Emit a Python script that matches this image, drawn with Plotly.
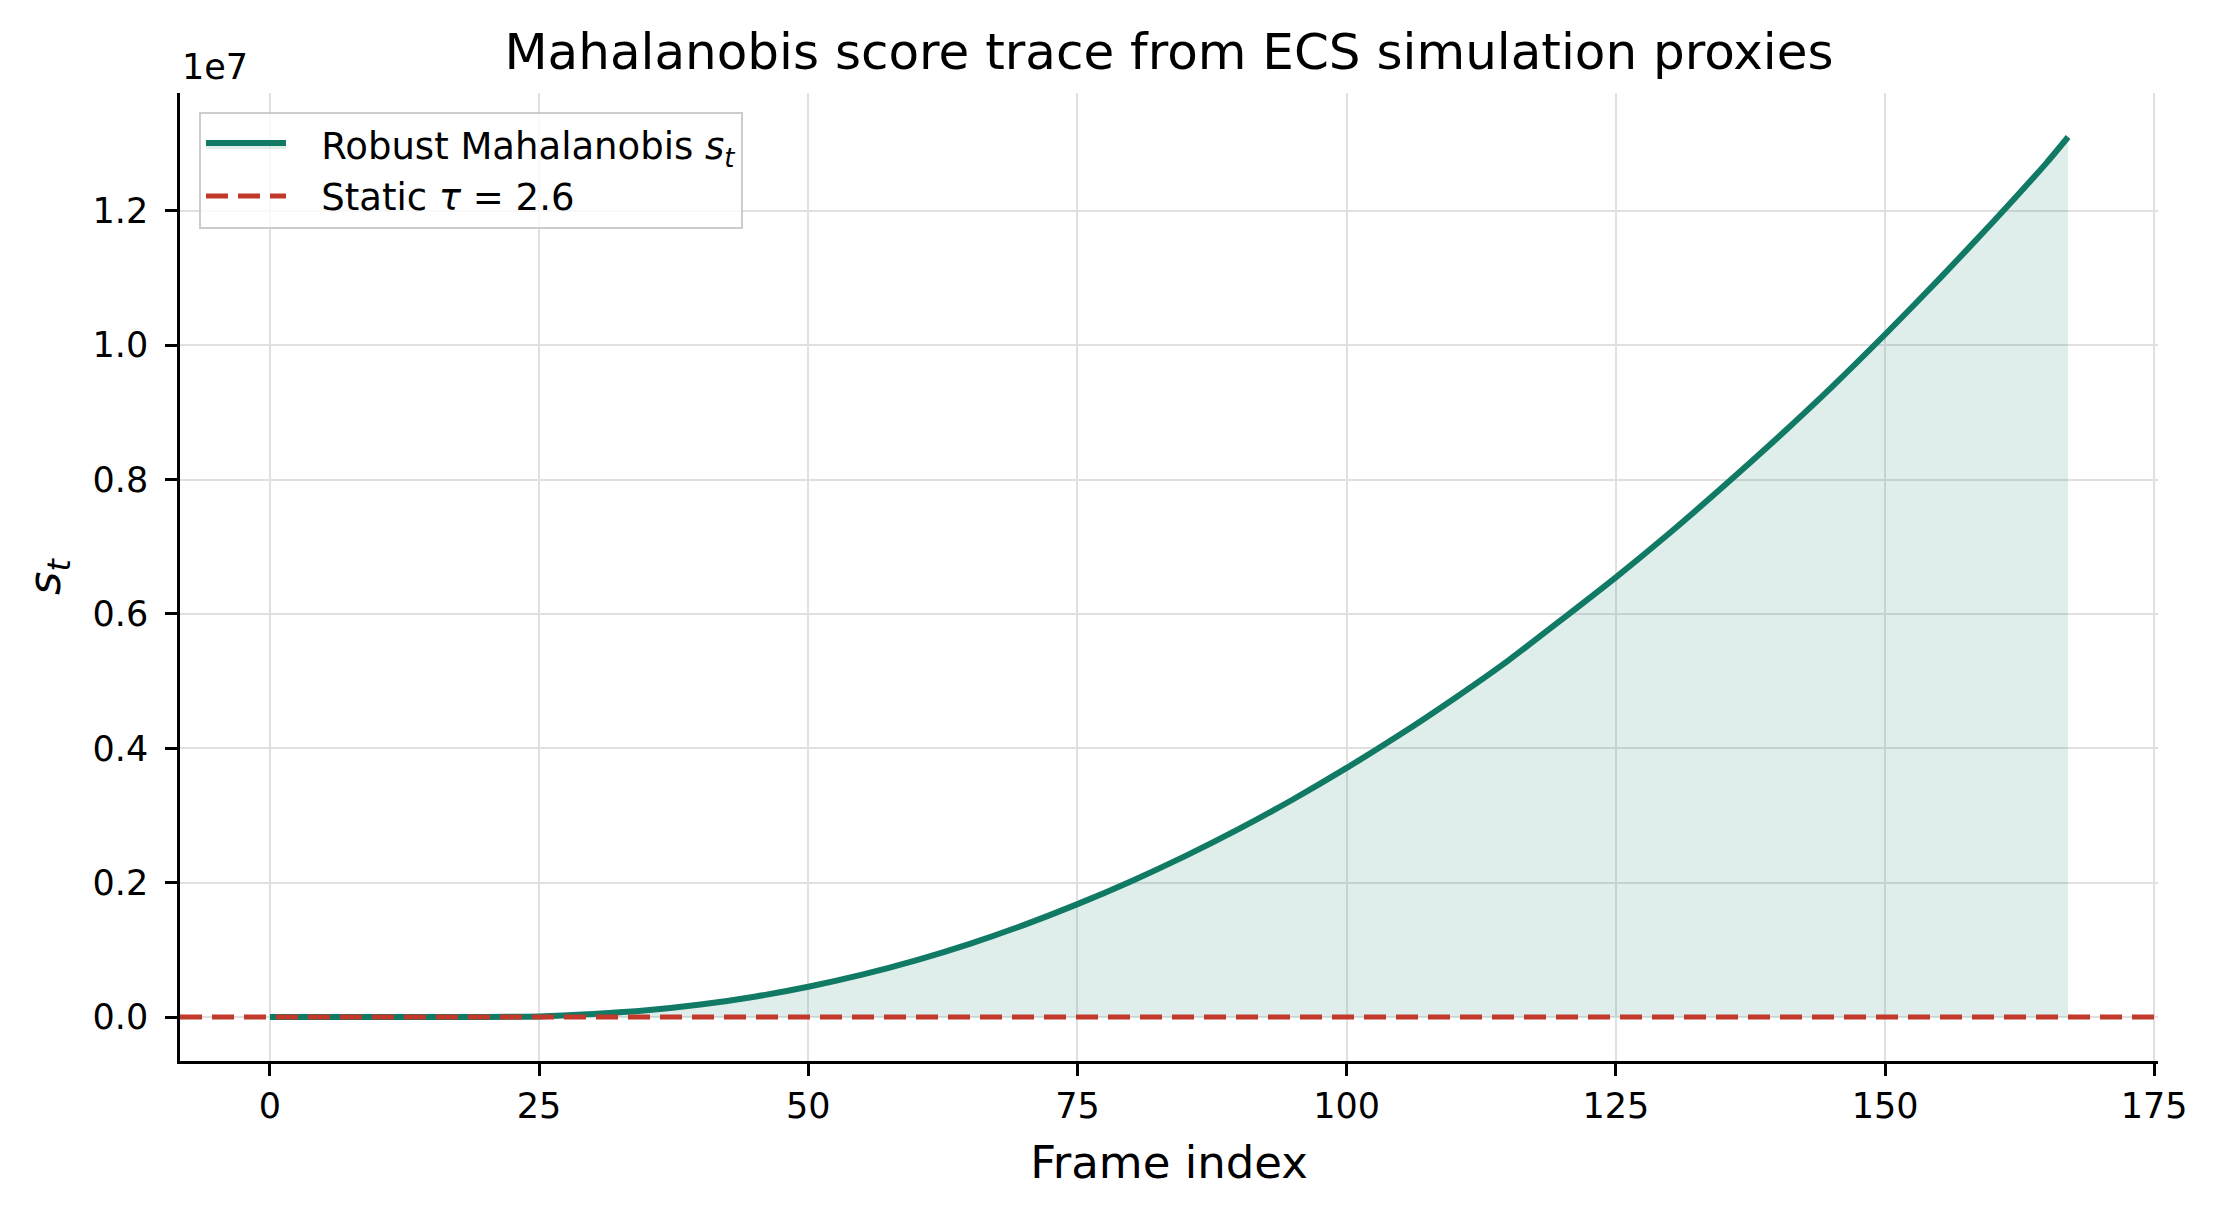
import plotly.graph_objects as go

# ---------------- data ----------------
SCALE = 1e7  # axis offset shown as "1e7"
frames = [0, 5, 10, 15, 20, 25, 30, 35, 40, 45, 50, 55, 60, 65, 70, 75, 80, 85,
          90, 95, 100, 105, 110, 115, 120, 125, 130, 135, 140, 145, 150, 155,
          160, 165, 167]
score_1e7 = [0.0, 0.0, 0.0, 0.0, 0.0, 0.0008, 0.0045, 0.0100, 0.0185, 0.0302,
             0.0450, 0.0630, 0.0843, 0.1089, 0.1368, 0.1680, 0.2022, 0.2395,
             0.2800, 0.3238, 0.3708, 0.4208, 0.4742, 0.5306, 0.5920, 0.6545,
             0.7205, 0.7900, 0.8620, 0.9370, 1.0160, 1.0980, 1.1830, 1.2715,
             1.3100]
tau = 2.6
x_ticks = [0, 25, 50, 75, 100, 125, 150, 175]
y_ticks_1e7 = [0.0, 0.2, 0.4, 0.6, 0.8, 1.0, 1.2]
y_tick_labels = ["0.0", "0.2", "0.4", "0.6", "0.8", "1.0", "1.2"]

GREEN = "#117a65"
RED = "#c0392b"
FONT = "DejaVu Sans"

scores = [v * SCALE for v in score_1e7]

# matplotlib-like 5% margins
xpad = 0.05 * (max(frames) - min(frames))
x_range = [min(frames) - xpad, max(frames) + xpad]
ypad = 0.05 * (max(scores) - min(scores))
y_range = [min(scores) - ypad, max(scores) + ypad]

LEAD = "\u2002\u00a0"  # gap between legend sample and label

fig = go.Figure()

fig.add_trace(go.Scatter(
    x=frames, y=scores, mode="lines",
    line=dict(color=GREEN, width=6, shape="spline", smoothing=0.6),
    fill="tozeroy", fillcolor="rgba(17,122,101,0.13)",
    name=LEAD + "Robust Mahalanobis <i>s</i><sub><i>t</i></sub>",
))

fig.add_trace(go.Scatter(
    x=x_range, y=[tau, tau], mode="lines",
    line=dict(color=RED, width=5, dash="22px,10px"),
    name=LEAD + "Static <i>τ</i> = 2.6",
))

fig.update_layout(
    width=2218, height=1220,
    margin=dict(l=180, r=60, t=93, b=159),
    paper_bgcolor="white", plot_bgcolor="white",
    font=dict(family=FONT, size=35, color="black"),
    title=dict(text="Mahalanobis score trace from ECS simulation proxies",
               font=dict(family=FONT, size=50, color="black"),
               x=(180 + 2158) / 2 / 2218, xanchor="center",
               y=1 - 51 / 1220, yanchor="middle", yref="container"),
    showlegend=True,
    legend=dict(x=0.0096, y=0.98, xanchor="left", yanchor="top",
                bgcolor="rgba(255,255,255,0.8)", bordercolor="#cccccc",
                borderwidth=2, font=dict(family=FONT, size=37),
                itemwidth=80, tracegroupgap=0),
)

fig.update_xaxes(
    range=x_range, tickmode="array", tickvals=x_ticks,
    ticks="outside", ticklen=12, tickwidth=2.5, tickcolor="black",
    showline=True, linecolor="black", linewidth=2.5, mirror=False,
    showgrid=True, gridcolor="#e0e0e0", gridwidth=2, zeroline=False,
    tickfont=dict(family=FONT, size=35),
    title=dict(text="Frame index", font=dict(family=FONT, size=45), standoff=22),
)

fig.update_yaxes(
    range=y_range, tickmode="array",
    tickvals=[v * SCALE for v in y_ticks_1e7], ticktext=y_tick_labels,
    ticks="outside", ticklen=12, tickwidth=2.5, tickcolor="black",
    ticklabelstandoff=10,
    showline=True, linecolor="black", linewidth=2.5, mirror=False,
    showgrid=True, gridcolor="#e0e0e0", gridwidth=2, zeroline=False,
    tickfont=dict(family=FONT, size=35),
    title=dict(text="<i>s</i><sub><i>t</i></sub>", font=dict(family=FONT, size=45),
               standoff=18),
)

fig.add_annotation(text="1e7", xref="paper", yref="paper", x=0, y=1,
                   xanchor="left", yanchor="bottom", yshift=4, showarrow=False,
                   font=dict(family=FONT, size=35, color="black"))

fig.write_html("out.html")
